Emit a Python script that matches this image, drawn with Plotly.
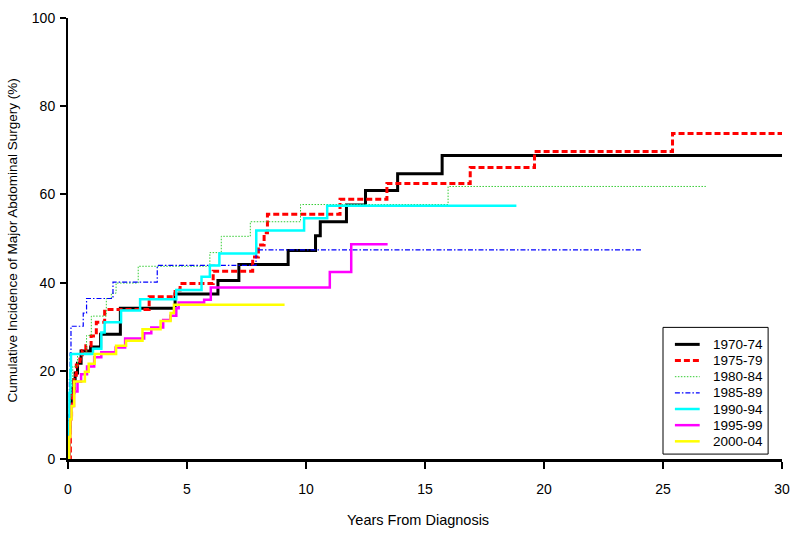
import plotly.graph_objects as go

# Step-function data: time (years) at which the cumulative incidence changes, and the new value (%)
# The last point of each series marks the end of follow-up.
names = ["1970-74", "1975-79", "1980-84", "1985-89", "1990-94", "1995-99", "2000-04"]

t_7074 = [0, 0.05, 0.1, 0.15, 0.25, 0.3, 0.4, 0.55, 0.95, 1.37, 2.2, 4.5, 6.3, 7.18, 9.25, 10.4, 10.6, 11.7, 12.5, 13.85, 15.72, 30]
y_7074 = [0, 6, 12, 16, 18, 19.5, 21.7, 24.5, 25.4, 28.3, 34.2, 37.4, 40.5, 44.1, 47.3, 50.6, 53.8, 57.6, 60.9, 64.7, 68.8, 68.8]

t_7579 = [0, 0.1, 0.15, 0.25, 0.35, 0.5, 0.6, 0.75, 0.97, 1.19, 1.54, 3.41, 4.5, 4.71, 6.1, 7.76, 8.0, 8.24, 8.38, 11.43, 13.4, 16.9, 19.6, 25.4, 30]
y_7579 = [0, 10, 15, 19, 21.3, 22.7, 24.6, 25.7, 27.9, 31.0, 33.9, 36.8, 38.3, 39.8, 42.6, 45.8, 48.5, 51.3, 55.5, 58.9, 62.5, 66.1, 69.7, 73.8, 73.8]

t_8084 = [0, 0.05, 0.1, 0.15, 0.2, 0.4, 0.78, 0.98, 1.61, 1.82, 2.02, 2.95, 5.96, 6.44, 7.66, 9.77, 15.97, 26.8]
y_8084 = [0, 8, 14, 18, 21, 24, 28, 32.4, 36.4, 37.6, 39.9, 43.7, 46.8, 50.5, 53.8, 57.7, 61.8, 61.8]

t_8589 = [0, 0.03, 0.06, 0.09, 0.125, 0.64, 0.78, 1.89, 3.75, 7.9, 24.1]
y_8589 = [0, 10, 18, 24, 30.1, 33.1, 36.4, 40.1, 43.9, 47.4, 47.4]

t_9094 = [0, 0.03, 0.06, 0.1, 0.125, 1.05, 1.4, 1.54, 2.23, 3.03, 4.55, 5.61, 5.96, 6.36, 7.91, 9.92, 10.89, 18.84]
y_9094 = [0, 8, 15, 20, 23.8, 25.0, 28.7, 31.0, 33.7, 36.2, 38.3, 41.3, 43.9, 46.6, 51.8, 54.6, 57.4, 57.4]

t_9599 = [0, 0.05, 0.1, 0.15, 0.25, 0.4, 0.55, 0.8, 1.1, 1.4, 2.0, 2.4, 3.2, 3.5, 4.0, 4.3, 4.55, 4.65, 5.72, 6.0, 11.0, 11.9, 13.43]
y_9599 = [0, 5, 9, 12, 15.3, 17.5, 19.2, 21.0, 23.1, 24.2, 25.3, 27.3, 28.5, 29.8, 31.5, 32.5, 34.2, 35.5, 36.1, 38.9, 42.4, 48.7, 48.7]

t_0004 = [0, 0.05, 0.1, 0.15, 0.26, 0.71, 0.87, 1.12, 2.02, 2.44, 3.13, 3.89, 4.31, 4.45, 9.1]
y_0004 = [0, 5, 9, 12, 17.6, 19.8, 21.6, 23.8, 25.7, 26.8, 29.4, 31.3, 33.1, 35.0, 35.0]

x_ticks = [0, 5, 10, 15, 20, 25, 30]
y_ticks = [0, 20, 40, 60, 80, 100]

styles = [
    ("#000000", 3, "solid"),
    ("#ff0000", 3, "6px,3px"),
    ("#33cc33", 1, "1.5px,1.5px"),
    ("#0000ff", 1.2, "5px,2px,1.5px,2px"),
    ("#00ffff", 2.5, "solid"),
    ("#ff00ff", 2.5, "solid"),
    ("#ffff00", 2.5, "solid"),
]
data = [(t_7074, y_7074), (t_7579, y_7579), (t_8084, y_8084), (t_8589, y_8589),
        (t_9094, y_9094), (t_9599, y_9599), (t_0004, y_0004)]

fig = go.Figure()
for name, (t, y), (c, w, d) in zip(names, data, styles):
    fig.add_trace(go.Scatter(
        x=t, y=y, name=name, mode="lines", line_shape="hv",
        line=dict(color=c, width=w, dash=d), showlegend=False,
    ))

font_family = "Liberation Sans, Arial, sans-serif"

# Plot area in pixels: x 68..788, y 10..459
L, R, T, B = 68, 788, 10, 459
def px(xp):
    return (xp - L) / (R - L)
def py(yp):
    return (B - yp) / (B - T)

# Legend (box + samples + labels), drawn in paper coordinates
shapes = [dict(type="rect", xref="paper", yref="paper",
               x0=px(668), x1=px(774), y0=py(454), y1=py(325),
               line=dict(color="#000000", width=1), fillcolor="white", layer="above")]
annotations = []
row0, step = 342.3, 16.45
for i, (name, (c, w, d)) in enumerate(zip(names, styles)):
    yc = row0 + i * step
    shapes.append(dict(type="line", xref="paper", yref="paper",
                       x0=px(680), x1=px(705), y0=py(yc), y1=py(yc),
                       line=dict(color=c, width=w, dash=d), layer="above"))
    annotations.append(dict(text=name, xref="paper", yref="paper",
                            x=px(716), y=py(yc), xanchor="left", yanchor="middle",
                            showarrow=False,
                            font=dict(size=13.5, family=font_family, color="#000000")))

annotations += [
    dict(text="Years From Diagnosis", xref="paper", yref="paper",
         x=px(421), y=py(521), xanchor="center", yanchor="middle",
         showarrow=False, font=dict(size=14.5, family=font_family, color="#000000")),
    dict(text="Cumulative Incidence of Major Abdominal Surgery (%)", xref="paper", yref="paper",
         x=px(13), y=py(236), xanchor="center", yanchor="middle",
         textangle=-90, showarrow=False,
         font=dict(size=13.5, family=font_family, color="#000000")),
]

fig.update_layout(
    width=800, height=533,
    margin=dict(l=L, r=800 - R, t=T, b=533 - B),
    plot_bgcolor="white", paper_bgcolor="white",
    font=dict(family=font_family, color="#000000", size=14),
    showlegend=False,
    xaxis=dict(
        range=[0, 30], tickvals=x_ticks, ticks="outside", ticklen=7, tickwidth=1.5,
        tickcolor="#000000", showline=True, linecolor="#000000", linewidth=3,
        showgrid=False, zeroline=False, ticklabelstandoff=8,
        tickfont=dict(size=14, family=font_family),
    ),
    yaxis=dict(
        range=[0, 100], tickvals=y_ticks, ticks="outside", ticklen=6, tickwidth=1.5,
        tickcolor="#000000", showline=True, linecolor="#000000", linewidth=2,
        showgrid=False, zeroline=False, ticklabelstandoff=2,
        tickfont=dict(size=14, family=font_family),
    ),
    shapes=shapes,
    annotations=annotations,
)

fig.write_html("out.html", config={"displayModeBar": False},
               post_script="document.body.style.margin='0px';")
